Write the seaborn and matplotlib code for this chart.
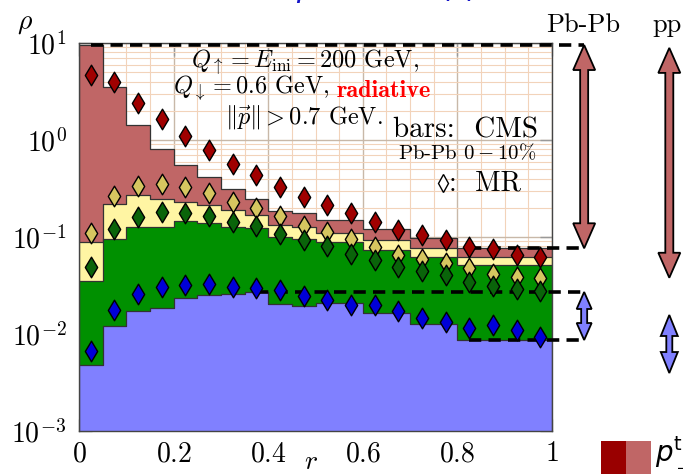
import numpy as np
import pandas as pd
import matplotlib
matplotlib.use("Agg")
import matplotlib.pyplot as plt
from matplotlib.patches import Polygon, Rectangle
from matplotlib.transforms import IdentityTransform
from matplotlib.ticker import LogLocator, MultipleLocator
import seaborn as sns

# ---------------------------------------------------------------- data
# CMS radial bins of the jet shape
r_edges = [0.0, 0.05, 0.10, 0.15, 0.20, 0.25, 0.30, 0.35, 0.40, 0.45,
           0.50, 0.60, 0.70, 0.80, 1.00]

# CMS Pb-Pb 0-10% jet shape, cumulative p_perp^trk bands (top of each band)
cms_band_all = [9.53, 3.49, 1.43, 0.802, 0.553, 0.419, 0.310, 0.245,
                0.185, 0.178, 0.150, 0.120, 0.097, 0.0765]
cms_band_3 = [0.0895, 0.217, 0.271, 0.245, 0.228, 0.214, 0.190, 0.169,
              0.133, 0.126, 0.109, 0.0938, 0.0770, 0.0618]
cms_band_2 = [0.0354, 0.0947, 0.126, 0.126, 0.146, 0.140, 0.128, 0.123,
              0.0993, 0.0947, 0.0888, 0.0735, 0.0627, 0.0514]
cms_band_1 = [0.00479, 0.0122, 0.0173, 0.0184, 0.0237, 0.0252, 0.0257,
              0.0271, 0.0204, 0.0194, 0.0207, 0.0163, 0.0127, 0.00867]

# MR model points
r_mr = [0.025, 0.075, 0.125, 0.175, 0.225, 0.275, 0.325, 0.375, 0.425, 0.475,
        0.525, 0.575, 0.625, 0.675, 0.725, 0.775, 0.825, 0.875, 0.925, 0.975]
mr_all = [4.68, 3.99, 2.43, 1.65, 1.10, 0.783, 0.566, 0.436, 0.330, 0.260,
          0.214, 0.176, 0.143, 0.118, 0.105, 0.0931, 0.0783, 0.0747, 0.0652, 0.0627]
mr_3 = [0.109, 0.267, 0.336, 0.350, 0.324, 0.286, 0.231, 0.201, 0.163, 0.131,
        0.112, 0.0947, 0.0783, 0.0660, 0.0600, 0.0544, 0.0476, 0.0416, 0.0384, 0.0375]
mr_2 = [0.0487, 0.122, 0.160, 0.179, 0.176, 0.165, 0.144, 0.130, 0.108, 0.0925,
        0.0802, 0.0673, 0.0579, 0.0487, 0.0444, 0.0406, 0.0346, 0.0315, 0.0291, 0.0279]
mr_1 = [0.00668, 0.0178, 0.0260, 0.0303, 0.0322, 0.0326, 0.0307, 0.0298, 0.0286, 0.0248,
        0.0224, 0.0201, 0.0198, 0.0171, 0.0146, 0.0134, 0.0115, 0.0124, 0.0110, 0.00925]

# pp ranges (max, min) for the full band and the lowest band
pp_range_all = [8.9, 0.038]
pp_range_1 = [0.0157, 0.00396]

# start of the dashed range markers
dash_start = {"all_max": 0.025, "all_min": 0.825, "b1_max": 0.375, "b1_min": 0.825}

y_ticks = [1e-3, 1e-2, 1e-1, 1e0, 1e1]
y_ticklabels = [r"$10^{-3}$", r"$10^{-2}$", r"$10^{-1}$", r"$10^{0}$", r"$10^{1}$"]
x_ticks = [0, 0.2, 0.4, 0.6, 0.8, 1.0]
x_ticklabels = ["$0$", "$0.2$", "$0.4$", "$0.6$", "$0.8$", "$1$"]

# ---------------------------------------------------------------- style
plt.rcParams["mathtext.fontset"] = "cm"
plt.rcParams["font.family"] = ["cmr10", "DejaVu Serif"]
plt.rcParams["axes.unicode_minus"] = False

col_all = "#C06666"
col_3 = "#FFF5A3"
col_2 = "#009000"
col_1 = "#8080FF"
mk_all = "#A00000"
mk_3 = "#D6C660"
mk_2 = "#0A640A"
mk_1 = "#0000D8"

W, H = 683, 474
fig = plt.figure(figsize=(W / 100, H / 100), dpi=100)
ax = fig.add_axes([79 / W, (H - 431) / H, 473 / W, 388 / H])

centers = [(a + b) / 2 for a, b in zip(r_edges[:-1], r_edges[1:])]
bands = pd.DataFrame({"r": centers, "all": cms_band_all, "b3": cms_band_3,
                      "b2": cms_band_2, "b1": cms_band_1})

for key, col in [("all", col_all), ("b3", col_3), ("b2", col_2), ("b1", col_1)]:
    sns.histplot(data=bands, x="r", weights=key, bins=r_edges, element="step",
                 fill=True, color=col, alpha=1.0, edgecolor="#333333",
                 linewidth=0.9, ax=ax, zorder=2)

ax.set_yscale("log")
ax.set_xlim(0, 1)
ax.set_ylim(1e-3, 1e1)

# dashed range markers (first bin excluded for the lowest band minimum)
arrow_r_pbpb = 1.068
arrow_r_pp = 1.248
all_hi, all_lo = max(cms_band_all), min(cms_band_all)
b1_hi, b1_lo = max(cms_band_1), min(cms_band_1[1:])
ranges = [("all_max", all_hi), ("all_min", all_lo), ("b1_max", b1_hi), ("b1_min", b1_lo)]
for key, v in ranges:
    ax.plot([dash_start[key], arrow_r_pbpb], [v, v], color="black", lw=2.6,
            ls=(0, (3.4, 2.0)), clip_on=False, zorder=4, dash_capstyle="butt")

mr = pd.DataFrame({"r": r_mr, "all": mr_all, "b3": mr_3, "b2": mr_2, "b1": mr_1})
for key, col in [("all", mk_all), ("b3", mk_3), ("b2", mk_2), ("b1", mk_1)]:
    sns.scatterplot(data=mr, x="r", y=key, marker="d", s=110, color=col,
                    edgecolor="black", linewidth=1.0, ax=ax, zorder=5,
                    clip_on=False)

# grid
ax.set_axisbelow(True)
ax.xaxis.set_minor_locator(MultipleLocator(0.05))
ax.yaxis.set_minor_locator(LogLocator(base=10, subs=np.arange(2, 10)))
ax.grid(which="minor", color="#F2D3BA", lw=0.8, zorder=0)
ax.grid(which="major", color="#C8B8A8", lw=1.0, zorder=0)

ax.set_xticks(x_ticks)
ax.set_xticklabels(x_ticklabels)
ax.set_yticks(y_ticks)
ax.set_yticklabels(y_ticklabels)
ax.tick_params(which="major", direction="in", length=9, width=1.0, color="#999999",
               labelsize=20, top=True, right=True, pad=7)
ax.tick_params(axis="y", which="major", pad=9)
ax.tick_params(which="minor", length=0)
for s in ax.spines.values():
    s.set_color("#444444")
    s.set_linewidth(1.0)
ax.set_xlabel("")
ax.set_ylabel("")

fig.text(25 / W, 1 - 23 / H, r"$\rho$", fontsize=20, ha="center", va="center")
fig.text(311 / W, 1 - 462 / H, r"$r$", fontsize=20, ha="center", va="center")

# annotations inside the frame
ax.text(0.478, 0.951, r"$Q_\uparrow = E_{\rm ini} = 200$ GeV,", transform=ax.transAxes,
        fontsize=17.5, ha="center", va="center")
t2 = ax.text(0.199, 0.884, r"$Q_\downarrow = 0.6$ GeV,", transform=ax.transAxes,
             fontsize=17.5, ha="left", va="center")
ax.annotate("radiative", xy=(1, 0), xycoords=t2, xytext=(5, 0),
            textcoords="offset points", ha="left", va="bottom",
            fontsize=17.5, color="#FF0000", family="cmb10")
ax.text(0.476, 0.807, r"$\|\vec{p}\| > 0.7$ GeV.", transform=ax.transAxes,
        fontsize=17.5, ha="center", va="center")
ax.text(0.818, 0.776, "bars:  CMS", transform=ax.transAxes,
        fontsize=21, ha="center", va="center")
ax.text(0.820, 0.716, r"Pb-Pb $0-10\%$", transform=ax.transAxes,
        fontsize=15, ha="center", va="center")
ax.plot([0.770], [0.639], marker="d", ms=9, mfc="white", mec="black", mew=1.0,
        transform=ax.transAxes, clip_on=False)
ax.text(0.782, 0.639, ":  MR", transform=ax.transAxes,
        fontsize=20, ha="left", va="center")

fig.text(583 / W, 1 - 25 / H, "Pb-Pb", fontsize=19, ha="center", va="center")
fig.text(667 / W, 1 - 25 / H, "pp", fontsize=19, ha="center", va="center")


def double_arrow(r_pos, v_top, v_bot, hw, hl, sw, color):
    cx, yt = ax.transData.transform((r_pos, v_top))
    _, yb = ax.transData.transform((r_pos, v_bot))
    verts = [(cx, yt), (cx + hw, yt - hl), (cx + sw, yt - hl), (cx + sw, yb + hl),
             (cx + hw, yb + hl), (cx, yb), (cx - hw, yb + hl), (cx - sw, yb + hl),
             (cx - sw, yt - hl), (cx - hw, yt - hl)]
    fig.add_artist(Polygon(verts, closed=True, facecolor=color, edgecolor="black",
                           lw=1.3, transform=IdentityTransform(), zorder=6))


double_arrow(arrow_r_pbpb, all_hi, all_lo, 11, 25, 4, col_all)
double_arrow(arrow_r_pbpb, b1_hi, b1_lo, 7.5, 17, 3, col_1)
double_arrow(arrow_r_pp, pp_range_all[0], pp_range_all[1], 11, 25, 4, col_all)
double_arrow(arrow_r_pp, pp_range_1[0], pp_range_1[1], 8.5, 21, 3, col_1)

# colour key at the lower right
fig.add_artist(Rectangle((601 / W, 0), 25 / W, 33 / H, transform=fig.transFigure,
                         facecolor="#990000", edgecolor="none"))
fig.add_artist(Rectangle((626 / W, 0), 25 / W, 33 / H, transform=fig.transFigure,
                         facecolor=col_all, edgecolor="none"))
fig.text(655 / W, 12 / H, r"$p_\perp^{\rm trk}$ bins", fontsize=20, ha="left",
         va="baseline", math_fontfamily="dejavusans", family="DejaVu Sans")

# heading above the frame
fig.text(476 / W, 1 + 2 / H, r"$p^{\rm trk}$ bins /(r)", fontsize=22,
         ha="right", va="baseline", color="#1414C8", family="DejaVu Sans",
         math_fontfamily="dejavusans")

fig.savefig("out.png", dpi=100)
